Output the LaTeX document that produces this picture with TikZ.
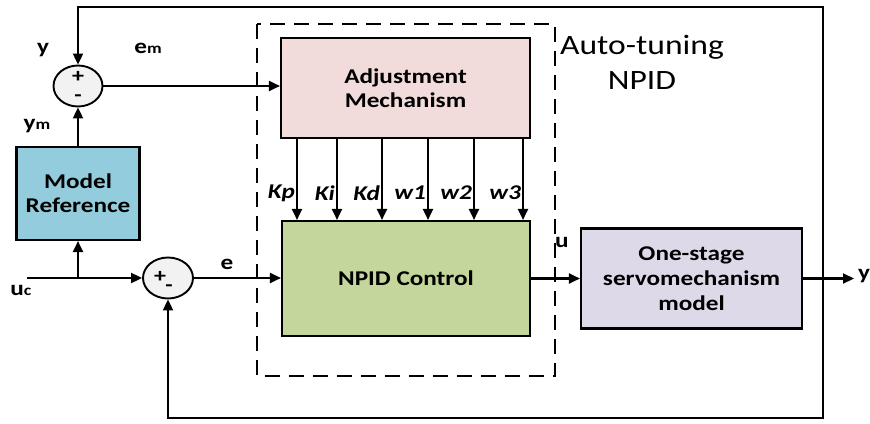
\documentclass[tikz,border=0pt]{standalone}
\usepackage{fontspec}
\setmainfont{Carlito}[FakeStretch=1.2]
\usetikzlibrary{arrows.meta,shapes.geometric}
\definecolor{adjfill}{HTML}{F2DCDB}
\definecolor{npidfill}{HTML}{C3D69B}
\definecolor{modelfill}{HTML}{93CDDD}
\definecolor{servofill}{HTML}{DDD9E8}
\definecolor{sumfill}{HTML}{F2F2F2}
\tikzset{
  blk/.style={draw, line width=2.1pt, align=center, inner sep=0pt,
    font=\bfseries\fontsize{21}{24}\selectfont},
  sumnode/.style={draw, ellipse, fill=sumfill, line width=1.9pt, inner sep=0pt,
    minimum width=49pt, minimum height=41pt},
  sig/.style={font=\bfseries\fontsize{21}{24}\selectfont, inner sep=0pt},
  gain/.style={font=\bfseries\itshape\fontsize{21}{24}\selectfont, inner sep=0pt, anchor=east},
  sgn/.style={font=\bfseries\fontsize{20}{22}\selectfont, inner sep=0pt},
  conn/.style={line width=2.1pt},
  arr/.style={line width=2.1pt, -{Triangle[length=11pt,width=10pt]}}
}
\begin{document}
\begin{tikzpicture}[x=1pt,y=-1pt]
\path[use as bounding box] (0,0) rectangle (870,423);

% dashed auto-tuning frame
\draw[line width=2pt, dash pattern=on 15pt off 9pt] (257,24) rectangle (555,376);
\node[font=\fontsize{28}{35}\selectfont, align=center, inner sep=0pt] (at) at (642,62) {Auto-tuning\\NPID};

% blocks
\node[blk, fill=adjfill, minimum width=249pt, minimum height=100pt] (adj) at (405.5,88) {Adjustment\\Mechanism};
\node[blk, fill=npidfill, minimum width=248pt, minimum height=115pt] (npid) at (406,278.5) {NPID Control};
\node[blk, fill=modelfill, minimum width=123pt, minimum height=93pt] (model) at (78,193.5) {Model\\Reference};
\node[blk, fill=servofill, minimum width=221pt, minimum height=100pt, font=\bfseries\fontsize{21}{25}\selectfont] (servo) at (691.5,278.5) {One-stage\\servomechanism\\model};

% summing junctions
\node[sumnode] (s1) at (78,86) {};
\node[sgn] (s1p) at (78,77) {+};
\node[sgn] (s1m) at (78,98) {-};
\node[sumnode, minimum width=50pt] (s2) at (168,278) {};
\node[sgn] (s2p) at (160,277) {+};
\node[sgn] (s2m) at (169,288) {-};

% coordinates
\coordinate (ucin) at (27,278);
\coordinate (br) at (78,278);
\coordinate (tap) at (823,278.5);
\coordinate (yout) at (854,278.5);
\coordinate (tr) at (823,7);
\coordinate (bt) at (823,418);
\coordinate (kp) at (297,0);
\coordinate (ki) at (337,0);
\coordinate (kd) at (382,0);
\coordinate (w1) at (428,0);
\coordinate (w2) at (474,0);
\coordinate (w3) at (523,0);

% connectors
\draw[arr] (s1.east) -- (s1.east -| adj.west);
\foreach \c in {kp,ki,kd,w1,w2,w3}{
  \draw[arr] (adj.south -| \c) -- (npid.north -| \c);
}
\draw[conn] (ucin) -- (br);
\draw[arr] (br) -- (s2.west);
\draw[arr] (br) -- (model.south);
\draw[arr] (model.north) -- (s1.south);
\draw[arr] (s2.east) -- (s2.east -| npid.west);
\draw[arr] (npid.east) -- (servo.west);
\draw[arr] (servo.east) -- (yout);
\draw[arr] (tap) -- (tr) -| (s1.north);
\draw[arr] (tap) -- (bt) -| (s2.south);

% gain labels
\node[gain] (lkp) at (295,193) {Kp};
\node[gain] (lki) at (335,193) {Ki};
\node[gain] (lkd) at (380,193) {Kd};
\node[gain] (lw1) at (426,193) {w1};
\node[gain] (lw2) at (472,193) {w2};
\node[gain] (lw3) at (521,193) {w3};

% signal labels
\node[sig] (ly) at (43,50) {y};
\node[sig] (lem) at (148,48) {e{\fontsize{15}{16}\selectfont m}};
\node[sig] (lym) at (37,126) {y{\fontsize{15}{16}\selectfont m}};
\node[sig] (luc) at (21,290) {u{\fontsize{15}{16}\selectfont c}};
\node[sig] (le) at (227,264) {e};
\node[sig] (lu) at (562,242) {u};
\node[sig, anchor=west] (lyo) at (858,276) {y};
\end{tikzpicture}
\end{document}
